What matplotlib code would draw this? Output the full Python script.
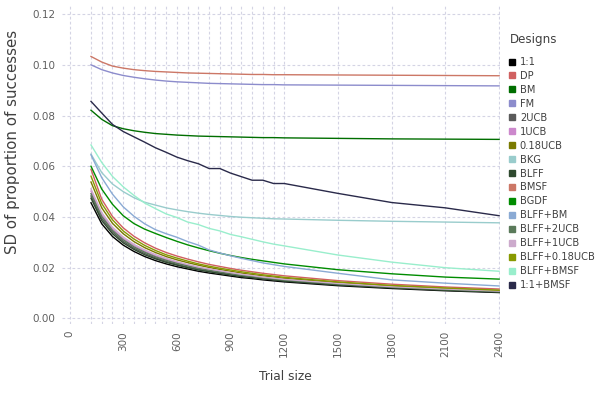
import matplotlib
matplotlib.use("Agg")
import matplotlib.pyplot as plt
from matplotlib.lines import Line2D

trial_sizes = [120, 180, 240, 300, 360, 420, 480, 540, 600, 660, 720, 780, 840,
               900, 960, 1020, 1080, 1140, 1200, 1500, 1800, 2100, 2400]

designs = ["1:1", "DP", "BM", "FM", "2UCB", "1UCB", "0.18UCB", "BKG", "BLFF",
           "BMSF", "BGDF", "BLFF+BM", "BLFF+2UCB", "BLFF+1UCB", "BLFF+0.18UCB",
           "BLFF+BMSF", "1:1+BMSF"]

colors = ["#000000", "#d06060", "#006e00", "#8c8ccc", "#5a5a5a", "#cc88cc",
          "#7a7a00", "#99cccc", "#2f4a2f", "#cc7766", "#008c00", "#8aaad4",
          "#5a7a5a", "#ccaacc", "#889900", "#99eecc", "#2a2a4a"]

sd_1to1 = [0.0456, 0.0373, 0.0323, 0.0289, 0.0264, 0.0244, 0.0228, 0.0215, 0.0204, 0.0195, 0.0186, 0.0179,
           0.0173, 0.0167, 0.0161, 0.0157, 0.0152, 0.0148, 0.0144, 0.0129, 0.0118, 0.0109, 0.0102]
sd_dp = [0.0588, 0.0470, 0.0402, 0.0357, 0.0324, 0.0298, 0.0277, 0.0260, 0.0246, 0.0234, 0.0223, 0.0213,
         0.0205, 0.0197, 0.0190, 0.0184, 0.0178, 0.0173, 0.0168, 0.0149, 0.0135, 0.0124, 0.0116]
sd_bm = [0.0821, 0.0785, 0.0760, 0.0748, 0.0740, 0.0734, 0.0729, 0.0726, 0.0723, 0.0721, 0.0719, 0.0718,
         0.0717, 0.0716, 0.0715, 0.0714, 0.0713, 0.0713, 0.0712, 0.0710, 0.0708, 0.0707, 0.0706]
sd_fm = [0.1000, 0.0981, 0.0968, 0.0958, 0.0951, 0.0945, 0.0940, 0.0936, 0.0933, 0.0931, 0.0929, 0.0927,
         0.0926, 0.0925, 0.0924, 0.0923, 0.0922, 0.0922, 0.0921, 0.0920, 0.0919, 0.0918, 0.0917]
sd_2ucb = [0.0483, 0.0394, 0.0341, 0.0304, 0.0277, 0.0256, 0.0239, 0.0225, 0.0213, 0.0203, 0.0194, 0.0187,
           0.0180, 0.0173, 0.0167, 0.0162, 0.0157, 0.0153, 0.0149, 0.0133, 0.0122, 0.0112, 0.0105]
sd_1ucb = [0.0502, 0.0409, 0.0353, 0.0315, 0.0287, 0.0265, 0.0247, 0.0233, 0.0221, 0.0210, 0.0200, 0.0192,
           0.0185, 0.0178, 0.0172, 0.0167, 0.0161, 0.0157, 0.0152, 0.0136, 0.0124, 0.0115, 0.0107]
sd_018ucb = [0.0538, 0.0436, 0.0375, 0.0334, 0.0303, 0.0279, 0.0260, 0.0244, 0.0231, 0.0220, 0.0210, 0.0201,
             0.0193, 0.0186, 0.0179, 0.0173, 0.0168, 0.0163, 0.0158, 0.0141, 0.0128, 0.0118, 0.0110]
sd_bkg = [0.0648, 0.0575, 0.0530, 0.0500, 0.0476, 0.0458, 0.0447, 0.0436, 0.0428, 0.0421, 0.0415, 0.0410,
          0.0406, 0.0402, 0.0399, 0.0397, 0.0395, 0.0393, 0.0392, 0.0387, 0.0383, 0.0380, 0.0377]
sd_blff = [0.0474, 0.0386, 0.0334, 0.0298, 0.0272, 0.0251, 0.0235, 0.0221, 0.0210, 0.0200, 0.0191, 0.0184,
           0.0177, 0.0171, 0.0165, 0.0161, 0.0156, 0.0152, 0.0147, 0.0132, 0.0121, 0.0111, 0.0104]
sd_bmsf = [0.1033, 0.1011, 0.0995, 0.0987, 0.0981, 0.0977, 0.0974, 0.0972, 0.0970, 0.0968, 0.0967, 0.0966,
           0.0965, 0.0964, 0.0963, 0.0962, 0.0962, 0.0961, 0.0961, 0.0960, 0.0959, 0.0958, 0.0957]
sd_bgdf = [0.0600, 0.0510, 0.0450, 0.0405, 0.0374, 0.0352, 0.0335, 0.0319, 0.0304, 0.0290, 0.0278, 0.0267,
           0.0257, 0.0248, 0.0240, 0.0233, 0.0227, 0.0221, 0.0215, 0.0192, 0.0176, 0.0163, 0.0155]
sd_blff_bm = [0.0645, 0.0555, 0.0490, 0.0440, 0.0403, 0.0373, 0.0350, 0.0334, 0.0320, 0.0303, 0.0289, 0.0270,
              0.0258, 0.0247, 0.0237, 0.0228, 0.0219, 0.0212, 0.0205, 0.0178, 0.0152, 0.0139, 0.0128]
sd_blff_2ucb = [0.0492, 0.0402, 0.0347, 0.0310, 0.0282, 0.0261, 0.0243, 0.0229, 0.0217, 0.0207, 0.0197, 0.0190,
                0.0183, 0.0176, 0.0170, 0.0165, 0.0160, 0.0155, 0.0151, 0.0135, 0.0123, 0.0114, 0.0106]
sd_blff_1ucb = [0.0511, 0.0417, 0.0360, 0.0321, 0.0292, 0.0270, 0.0252, 0.0237, 0.0224, 0.0213, 0.0203, 0.0195,
                0.0188, 0.0181, 0.0174, 0.0169, 0.0163, 0.0159, 0.0154, 0.0138, 0.0125, 0.0116, 0.0108]
sd_blff_018ucb = [0.0561, 0.0453, 0.0389, 0.0345, 0.0313, 0.0288, 0.0268, 0.0251, 0.0238, 0.0226, 0.0215, 0.0206,
                  0.0198, 0.0191, 0.0184, 0.0178, 0.0172, 0.0167, 0.0162, 0.0144, 0.0130, 0.0120, 0.0111]
sd_blff_bmsf = [0.0684, 0.0615, 0.0560, 0.0519, 0.0485, 0.0455, 0.0433, 0.0412, 0.0398, 0.0380, 0.0370, 0.0355,
                0.0345, 0.0331, 0.0322, 0.0312, 0.0302, 0.0293, 0.0286, 0.0250, 0.0222, 0.0200, 0.0186]
sd_1to1_bmsf = [0.0856, 0.0810, 0.0765, 0.0737, 0.0716, 0.0695, 0.0673, 0.0655, 0.0636, 0.0622, 0.0610, 0.0591,
                0.0591, 0.0573, 0.0559, 0.0545, 0.0545, 0.0532, 0.0532, 0.0493, 0.0457, 0.0436, 0.0405]

series = [sd_1to1, sd_dp, sd_bm, sd_fm, sd_2ucb, sd_1ucb, sd_018ucb, sd_bkg, sd_blff,
          sd_bmsf, sd_bgdf, sd_blff_bm, sd_blff_2ucb, sd_blff_1ucb, sd_blff_018ucb,
          sd_blff_bmsf, sd_1to1_bmsf]

x_ticks = [0, 300, 600, 900, 1200, 1500, 1800, 2100, 2400]
y_ticks = [0.00, 0.02, 0.04, 0.06, 0.08, 0.10, 0.12]

plt.rcParams['font.family'] = ['DejaVu Sans']

W, H = 598, 399
fig = plt.figure(figsize=(W / 100, H / 100), dpi=100)
ax = fig.add_axes([62 / W, 1 - 324 / H, (500 - 62) / W, (324 - 6) / H])

grid_col = "#d4d4e4"
for xv in sorted(set(trial_sizes) | set(x_ticks)):
    ax.axvline(xv, color=grid_col, lw=0.8, ls=(0, (2.5, 2)), zorder=0)
for yv in y_ticks:
    ax.axhline(yv, color=grid_col, lw=0.8, ls=(0, (2.5, 2)), zorder=0)

for name, col, vals in zip(designs, colors, series):
    ax.plot(trial_sizes, vals, color=col, lw=1.0, zorder=2, solid_joinstyle='round')

ax.set_xlim(-42, 2405)
ax.set_ylim(-0.0022, 0.1232)
ax.set_xticks(x_ticks)
ax.set_xticklabels([str(v) for v in x_ticks], rotation=90)
ax.set_yticks(y_ticks)
ax.set_yticklabels([f"{v:.2f}" for v in y_ticks])
ax.tick_params(axis='both', length=0, labelsize=7.5, labelcolor="#606060", pad=5)
for s in ax.spines.values():
    s.set_visible(False)

fig.text(285 / W, 1 - 377 / H, "Trial size", fontsize=8.8, color="#404040",
         ha='center', va='center')
fig.text(13 / W, 1 - 142 / H, "SD of proportion of successes", fontsize=10.8, color="#404040",
         ha='center', va='center', rotation=90)

fig.text(510 / W, 1 - 39 / H, "Designs", fontsize=8.6, color="#404040",
         ha='left', va='center')

handles = [Line2D([], [], marker='s', ls='none', markersize=4.5, markerfacecolor=c,
                  markeredgecolor=c) for c in colors]
leg = fig.legend(handles, designs, loc='upper left', bbox_to_anchor=(509 / W, 1 - 57 / H),
                 frameon=False, fontsize=7.1,
                 handlelength=0.6, handletextpad=0.5, labelspacing=0.40, borderaxespad=0,
                 borderpad=0)
for t in leg.get_texts():
    t.set_color("#404040")

fig.savefig("out.png", dpi=100)
